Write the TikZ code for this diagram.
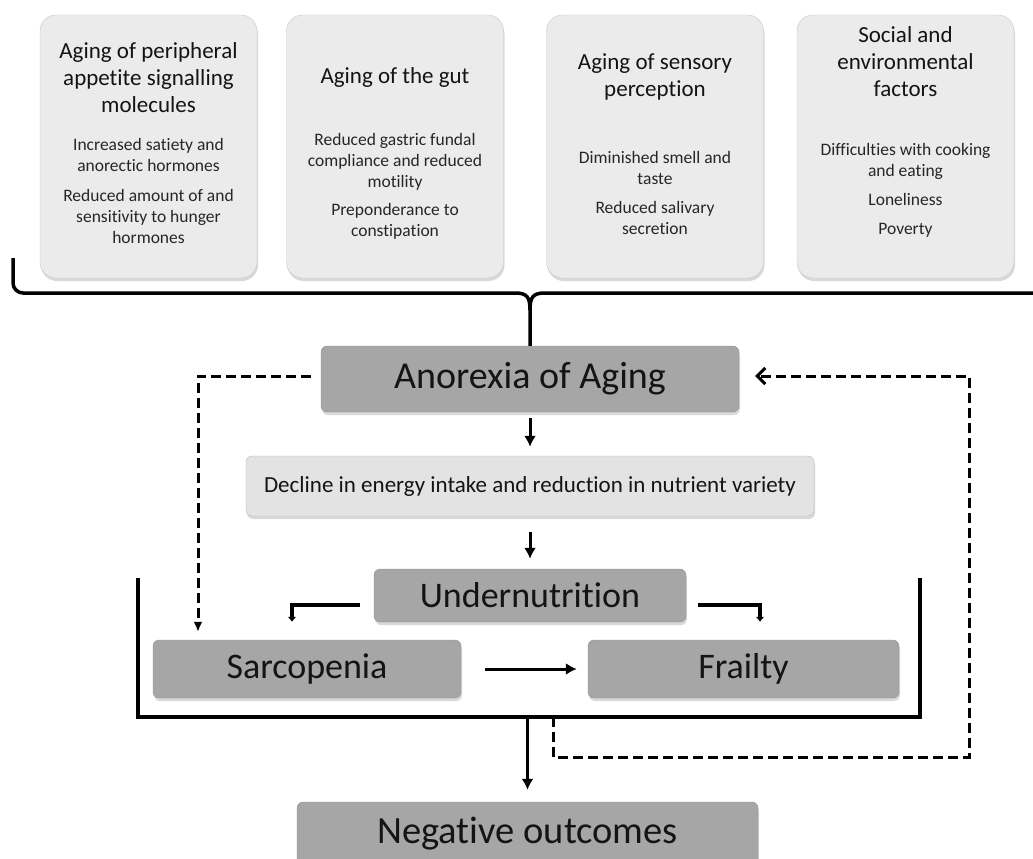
\documentclass[tikz,border=0pt]{standalone}
\usepackage{fontspec}
\setmainfont{Carlito}[Ligatures=NoCommon]
\usetikzlibrary{arrows.meta,shadows}

\begin{document}
\begin{tikzpicture}[x=1pt,y=-1pt,
  card/.style={draw=black!22,fill=black!8,rounded corners=16pt,minimum width=217pt,minimum height=263pt,
    drop shadow={shadow xshift=1pt,shadow yshift=-3pt,opacity=0.3}},
  head/.style={align=center,text=black!92,font=\fontsize{23}{27}\selectfont},
  items/.style={align=center,text=black!85,font=\fontsize{17.5}{21}\selectfont},
  darkbox/.style={draw=black!42,fill=black!35,rounded corners=6pt,text=black!92,font=\fontsize{36}{40}\selectfont,
    drop shadow={shadow xshift=1pt,shadow yshift=-3pt,opacity=0.3}},
  lightbox/.style={draw=black!28,fill=black!11,rounded corners=6pt,text=black!92,font=\fontsize{23}{26}\selectfont,
    drop shadow={shadow xshift=1pt,shadow yshift=-3pt,opacity=0.3}},
  brk/.style={line width=3.5pt},
  arr/.style={line width=3pt,-{Latex[length=11pt,width=12pt]}},
  elbow/.style={line width=4.5pt,-{Latex[length=5pt,width=9pt]}},
  fbk/.style={line width=3pt,dash pattern=on 10pt off 5pt}]
\useasboundingbox (0,0) rectangle (1033,859);

\node[card] (c1) at (148.5,146.5) {};
\node[card] (c2) at (395,146.5) {};
\node[card] (c3) at (655,146.5) {};
\node[card] (c4) at (905.5,146.5) {};

\node[head] (h1) at (148.5,77.5) {Aging of peripheral\\appetite signalling\\molecules};
\node[head] (h2) at (395,77) {Aging of the gut};
\node[head] (h3) at (655,76.5) {Aging of sensory\\perception};
\node[head] (h4) at (905.5,61.5) {Social and\\environmental\\factors};

\node[items] (i1) at (148.5,191) {Increased satiety and\\anorectic hormones\\[9pt]Reduced amount of and\\sensitivity to hunger\\hormones};
\node[items] (i2) at (395,186.5) {Reduced gastric fundal\\compliance and reduced\\motility\\[7pt]Preponderance to\\constipation};
\node[items] (i3) at (655,193) {Diminished smell and\\taste\\[8pt]Reduced salivary\\secretion};
\node[items] (i4) at (905.5,190.5) {Difficulties with cooking\\and eating\\[8pt]Loneliness\\[8pt]Poverty};

\node[darkbox,minimum width=418pt,minimum height=66pt,font=\fontsize{38}{42}\selectfont] (anorexia) at (530,379) {Anorexia of Aging};
\node[lightbox,minimum width=568pt,minimum height=60pt] (decline) at (530,486) {Decline in energy intake and reduction in nutrient variety};
\node[darkbox,minimum width=312pt,minimum height=53pt] (under) at (530,595.5) {Undernutrition};
\node[darkbox,minimum width=308pt,minimum height=58pt] (sarc) at (307,669) {Sarcopenia};
\node[darkbox,minimum width=311pt,minimum height=58pt] (frail) at (743.5,669) {Frailty};
\node[darkbox,minimum width=461pt,minimum height=64pt,font=\fontsize{38.5}{42}\selectfont] (neg) at (527.5,834) {Negative outcomes};

\coordinate (tip) at (530,310);
\draw[brk,rounded corners=10pt] (13,258) -- (13,293) -- (300,293);
\draw[brk] (300,293) -- (515,293) .. controls (527,293) and (530,297) .. (tip) -- (anorexia.north);
\draw[brk] (1033,293) -- (545,293) .. controls (533,293) and (530,297) .. (tip);

\draw[arr,shorten <=6pt,shorten >=9pt] (anorexia.south) -- (decline.north);
\draw[arr,shorten <=16pt,shorten >=10pt] (decline.south) -- (under.north);
\draw[elbow] ([xshift=-14pt,yshift=-9.5pt]under.west) -| ([xshift=-15pt,yshift=18pt]sarc.north);
\draw[elbow] ([xshift=12pt,yshift=-9.5pt]under.east) -| ([xshift=16.5pt,yshift=18pt]frail.north);
\draw[arr,shorten <=24pt,shorten >=11pt] (sarc.east) -- (frail.west);

\draw[brk] (138,578) -- (138,717) -- (920,717) -- (920,578);
\coordinate (bb) at (527.5,717);
\coordinate (fb) at (553,717);
\coordinate (rt) at (969,757);
\draw[arr,shorten >=12pt] (bb) -- (neg.north);

\draw[fbk,-{Latex[length=10pt,width=9pt]}] ([xshift=-10pt,yshift=3pt]anorexia.west) -| ([xshift=-109pt,yshift=8pt]sarc.north);
\draw[fbk,-{Straight Barb[length=8pt,width=16pt,line width=3pt]}] (fb) |- (rt) |- ([xshift=16pt,yshift=3pt]anorexia.east);
\end{tikzpicture}
\end{document}
